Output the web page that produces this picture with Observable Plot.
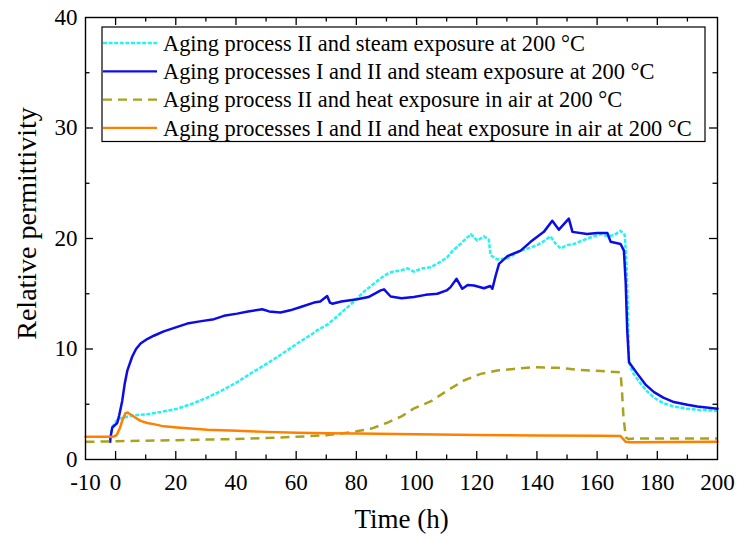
<!DOCTYPE html>
<html><head><meta charset="utf-8">
<script src="https://cdn.jsdelivr.net/npm/d3@7"></script>
<script src="https://cdn.jsdelivr.net/npm/@observablehq/plot@0.6"></script>
<style>
body{margin:0;background:#fff;}
#chart{position:relative;width:737px;height:540px;}
#overlay{position:absolute;left:0;top:0;pointer-events:none;}
</style></head><body><div id="chart"></div>
<script>
// ---- data ----
const seriesNames = [
  "Aging process II and steam exposure at 200 °C",
  "Aging processes I and II and steam exposure at 200 °C",
  "Aging process II and heat exposure in air at 200 °C",
  "Aging processes I and II and heat exposure in air at 200 °C"
];
const seriesColors = ["#22f4f4", "#0c0ce8", "#aaa21e", "#ff8000"];
const seriesDash = ["4,1.6", null, "9,6", null];

const cyanT = [-1.5,-1.0,0,1,2.8,6,10.5,15,20.5,25,30.5,35,40.4,45,50.4,55,60.4,65,67,70.3,73,75.9,78,80.3,83,85.8,88.1,90.3,92,94.7,97,99.1,102,104.7,107.4,110.2,112,114.6,116.5,118,120.2,122.4,124,124.6,126.8,130.1,134.6,137,140.1,142.5,144.5,146,147.9,150,152.3,156.7,161.2,163.5,165.6,167.8,169.2,169.8,170.1,170.6,172,174.5,176.5,178.9,182,185.5,190,193.3,200];
const cyanV = [2.4,3.0,3.4,3.7,3.8,4.0,4.1,4.3,4.6,5.0,5.6,6.2,7.0,7.8,8.7,9.5,10.5,11.3,11.7,12.2,12.8,13.5,14.0,14.6,15.3,15.9,16.4,16.8,17.0,17.1,17.3,17.0,17.3,17.4,17.8,18.3,18.9,19.5,20.0,20.4,19.8,20.2,19.9,18.5,18.1,18.2,18.9,19.1,19.4,19.8,20.2,19.6,19.1,19.4,19.5,20.0,20.4,20.2,20.3,20.7,20.3,17.5,14.7,8.8,7.8,6.85,6.2,5.6,5.1,4.8,4.6,4.5,4.4];

const blueT = [-1.8,-1.7,-1.1,0.55,1.2,2.2,3,3.9,5.5,6.8,8.3,10.5,12.7,16,20.5,23.8,28,32.7,36,40.4,44,48.7,51,54.8,58,61.5,65.9,68,70.3,71.2,72,75,80.3,84,88.1,89.2,91.4,95,99.1,103,106.9,110,111.3,113.3,115.2,117,119.1,122.4,124.5,125.2,126.3,127.4,130.2,134.6,137.9,142.3,145.1,147.3,150.6,151.8,156.7,160,163.4,164.5,167.8,168.9,169.5,170,170.6,173.4,176,178.9,182,185.5,190,193.3,200];
const blueV = [1.6,2.0,2.9,3.3,4.0,5.3,6.8,8.05,9.3,10.0,10.5,10.9,11.2,11.6,12.0,12.3,12.5,12.7,13.0,13.2,13.4,13.6,13.4,13.3,13.5,13.8,14.2,14.3,14.8,14.2,14.1,14.3,14.5,14.7,15.3,15.4,14.75,14.6,14.7,14.9,15.0,15.3,15.6,16.35,15.45,15.8,15.75,15.5,15.7,15.45,16.65,17.7,18.4,18.9,19.7,20.6,21.6,20.8,21.8,20.6,20.4,20.5,20.5,19.7,19.5,18.9,16,11.7,8.8,7.75,6.8,6.1,5.6,5.2,4.95,4.8,4.6];

const oliveT = [-10,0,10,20,30,40,50,60,70,75,80,85,90,95,99,105,110,115.7,121.3,126.8,132.3,139,146.8,154.5,161.2,167.8,168.3,168.7,169.5,170.5,172.2,200];
const oliveV = [1.6,1.65,1.7,1.75,1.8,1.85,1.95,2.05,2.2,2.35,2.55,2.8,3.3,3.9,4.6,5.3,6.2,7.15,7.75,8.05,8.2,8.35,8.3,8.1,8.0,7.9,6.0,4.1,2.0,1.85,1.9,1.9];

const orangeT = [-10,-1,0,0.55,1.5,2.2,3.3,4,5,6.5,8.3,10.5,12.7,16,20.5,25,30.5,40.4,50.4,60.4,70,80.3,100,120,140,160,167.8,168.5,169.5,171,200];
const orangeV = [2.05,2.05,2.15,2.3,2.9,3.5,4.2,4.25,4.07,3.8,3.5,3.3,3.2,3.0,2.9,2.8,2.7,2.6,2.5,2.42,2.38,2.35,2.28,2.22,2.18,2.15,2.12,1.9,1.6,1.57,1.6];

const xTickLabels = [-10,0,20,40,60,80,100,120,140,160,180,200];
const xMajorTicks = [0,20,40,60,80,100,120,140,160,180];
const xMinorTicks = [10,30,50,70,90,110,130,150,170,190];
const yTickLabels = [0,10,20,30,40];
const yMajorTicks = [10,20,30];
const yMinorTicks = [5,15,25,35];

// ---- build ----
const seriesT = [cyanT, blueT, oliveT, orangeT];
const seriesV = [cyanV, blueV, oliveV, orangeV];
const tables = seriesT.map((T, i) => T.map((t, j) => ({t, v: seriesV[i][j]})));

const W = 737, H = 540, mL = 85, mR = 20, mT = 17, mB = 81;
const plotW = W - mL - mR, plotH = H - mT - mB;
const font = "'Liberation Serif', 'Times New Roman', serif";
const major = 8, minor = 4.5;

const marks = [];
tables.forEach((rows, i) => {
  marks.push(Plot.line(rows, {x: "t", y: "v", stroke: seriesColors[i], strokeWidth: 2.5,
    strokeDasharray: seriesDash[i] || undefined,
    strokeLinecap: seriesDash[i] ? "butt" : "round", curve: "linear"}));
});
marks.push(
  Plot.axisX(xTickLabels, {tickSize: 0, tickPadding: 14, fontSize: 23, tickFormat: d => String(d), label: null, fill: "black"}),
  Plot.axisY(yTickLabels, {tickSize: 0, tickPadding: 8, fontSize: 23, tickFormat: d => String(d), label: null, fill: "black"}),
  Plot.tickX(xMajorTicks, {x: d => d, insetTop: plotH - major, stroke: "black", strokeWidth: 1.3}),
  Plot.tickX(xMinorTicks, {x: d => d, insetTop: plotH - minor, stroke: "black", strokeWidth: 1.3}),
  Plot.tickX(xMajorTicks, {x: d => d, insetBottom: plotH - major, stroke: "black", strokeWidth: 1.3}),
  Plot.tickX(xMinorTicks, {x: d => d, insetBottom: plotH - minor, stroke: "black", strokeWidth: 1.3}),
  Plot.tickY(yMajorTicks, {y: d => d, insetRight: plotW - major, stroke: "black", strokeWidth: 1.3}),
  Plot.tickY(yMinorTicks, {y: d => d, insetRight: plotW - minor, stroke: "black", strokeWidth: 1.3}),
  Plot.tickY(yMajorTicks, {y: d => d, insetLeft: plotW - major, stroke: "black", strokeWidth: 1.3}),
  Plot.tickY(yMinorTicks, {y: d => d, insetLeft: plotW - minor, stroke: "black", strokeWidth: 1.3}),
  Plot.frame({stroke: "black", strokeWidth: 1.4}),
  Plot.text(["Time (h)"], {frameAnchor: "bottom", dy: 68, text: d => d, fontSize: 27, fill: "black"}),
  Plot.text(["Relative permittivity"], {frameAnchor: "left", textAnchor: "middle", dx: -58, dy: -15, rotate: -90, text: d => d, fontSize: 28, fill: "black"})
);

const chart = Plot.plot({
  width: W, height: H,
  marginLeft: mL, marginRight: mR, marginTop: mT, marginBottom: mB,
  style: {fontFamily: font, background: "white", color: "black", overflow: "visible"},
  x: {domain: [-10, 200], axis: null},
  y: {domain: [0, 40], axis: null},
  marks
});
const host = document.getElementById("chart");
host.appendChild(chart);

// ---- legend (inside plot area) ----
const lg = d3.select(host).append("svg").attr("id", "overlay").attr("width", W).attr("height", H);
lg.append("rect").attr("x", 102).attr("y", 27).attr("width", 603).attr("height", 114.5)
  .attr("fill", "white").attr("stroke", "black").attr("stroke-width", 1.2);
seriesNames.forEach((name, i) => {
  const y = 43 + 28.3 * i;
  lg.append("line").attr("x1", 103).attr("x2", 157).attr("y1", y).attr("y2", y)
    .attr("stroke", seriesColors[i]).attr("stroke-width", 2.3)
    .attr("stroke-dasharray", seriesDash[i] || null);
  lg.append("text").attr("x", 163).attr("y", y).attr("dy", "0.35em")
    .attr("font-family", font).attr("font-size", 22.4).attr("fill", "black").text(name);
});
</script>
</body></html>
